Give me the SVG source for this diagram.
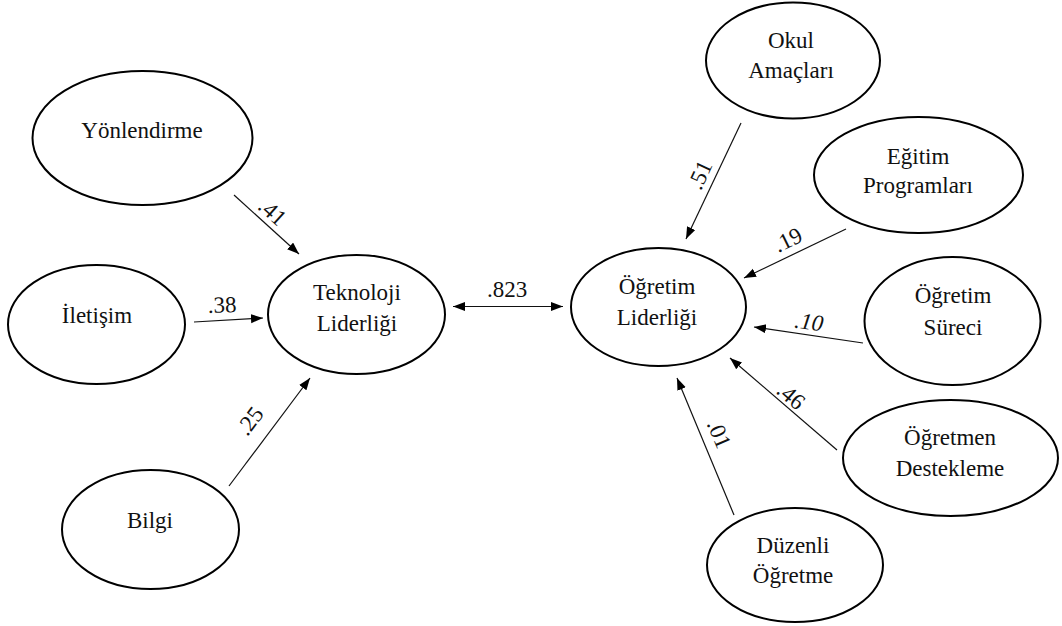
<svg xmlns="http://www.w3.org/2000/svg" width="1062" height="626" viewBox="0 0 1062 626">
<style>
text{font-size:23px;fill:#111;text-anchor:middle}
.node ellipse{fill:#fff;stroke:#000;stroke-width:2}
.edge{stroke:#111;stroke-width:1.2;fill:none}
.it{font-style:italic}
</style>
<defs>
<marker id="ah" markerWidth="13" markerHeight="10" refX="12" refY="4.5" orient="auto-start-reverse" markerUnits="userSpaceOnUse">
<path d="M0,0 L12,4.5 L0,9 z" fill="#000"/>
</marker>
</defs>
<rect width="1062" height="626" fill="#fff"/>
<g font-family="Liberation Serif, DejaVu Serif, serif">
<g id="connectors">
<line class="edge" x1="234" y1="195" x2="299" y2="254" marker-end="url(#ah)"/>
<line class="edge" x1="194" y1="322" x2="263" y2="318" marker-end="url(#ah)"/>
<line class="edge" x1="229" y1="486" x2="310" y2="378" marker-end="url(#ah)"/>
<line class="edge" x1="453" y1="306.5" x2="563" y2="306.5" marker-start="url(#ah)" marker-end="url(#ah)"/>
<line class="edge" x1="741" y1="123" x2="686" y2="239" marker-end="url(#ah)"/>
<line class="edge" x1="846" y1="229" x2="744" y2="278" marker-end="url(#ah)"/>
<line class="edge" x1="863" y1="343" x2="754" y2="327" marker-end="url(#ah)"/>
<line class="edge" x1="837" y1="450" x2="730" y2="358" marker-end="url(#ah)"/>
<line class="edge" x1="734" y1="515" x2="677" y2="378" marker-end="url(#ah)"/>
<text transform="translate(272.5,212) rotate(42)" y="7.5">.41</text>
<text transform="translate(222,305) rotate(-2)" y="7.5">.38</text>
<text transform="translate(250,421) rotate(-53)" y="7.5">.25</text>
<text x="507" y="296.5">.823</text>
<text transform="translate(700,175) rotate(-65)" y="7.5">.51</text>
<text transform="translate(788,240) rotate(-26)" y="7.5">.19</text>
<text class="it" transform="translate(809,322) rotate(8)" y="7.5">.10</text>
<text transform="translate(791,396) rotate(41)" y="7.5">.46</text>
<text transform="translate(719,434) rotate(67)" y="7.5">.01</text>
</g>
<g id="yonlendirme" class="node"><ellipse cx="142.5" cy="138" rx="110" ry="67"/><text x="142" y="138">Yönlendirme</text></g>
<g id="iletisim" class="node"><ellipse cx="96.5" cy="324.5" rx="88.5" ry="59.5"/><text x="97" y="323">İletişim</text></g>
<g id="bilgi" class="node"><ellipse cx="150.5" cy="529.5" rx="88.5" ry="59.5"/><text x="150" y="528">Bilgi</text></g>
<g id="teknoloji" class="node"><ellipse cx="356.5" cy="314.5" rx="88.5" ry="59.5"/><text x="357" y="300">Teknoloji</text><text x="357" y="331">Liderliği</text></g>
<g id="ogretim-liderligi" class="node"><ellipse cx="658.5" cy="307" rx="87.5" ry="59"/><text x="657" y="294">Öğretim</text><text x="657" y="325">Liderliği</text></g>
<g id="okul" class="node"><ellipse cx="793" cy="60.5" rx="87" ry="58"/><text x="791" y="48">Okul</text><text x="791" y="78">Amaçları</text></g>
<g id="egitim" class="node"><ellipse cx="918.5" cy="175" rx="104.5" ry="58"/><text x="918" y="164">Eğitim</text><text x="918" y="193">Programları</text></g>
<g id="surec" class="node"><ellipse cx="952.5" cy="321" rx="88" ry="64"/><text x="953" y="303">Öğretim</text><text x="953" y="335">Süreci</text></g>
<g id="destek" class="node"><ellipse cx="950.5" cy="458" rx="107.5" ry="58"/><text x="950" y="445">Öğretmen</text><text x="950" y="476">Destekleme</text></g>
<g id="duzenli" class="node"><ellipse cx="795" cy="565" rx="88" ry="57"/><text x="793" y="553">Düzenli</text><text x="793" y="583">Öğretme</text></g>
</g>
</svg>
